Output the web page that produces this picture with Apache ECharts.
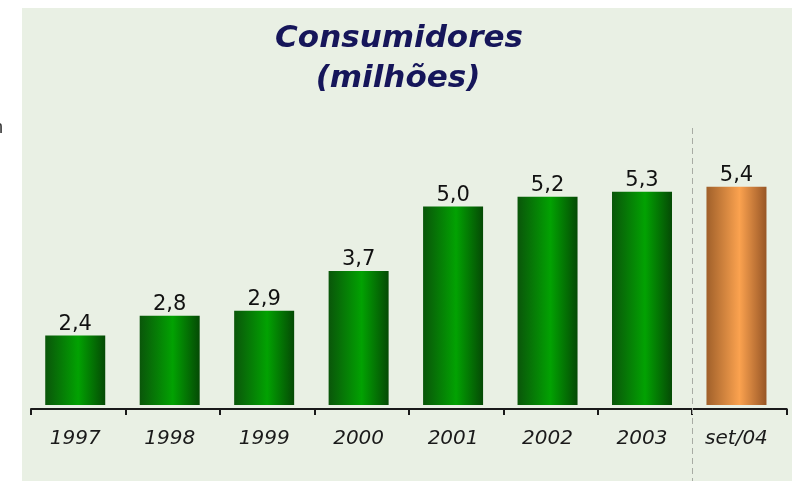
<!DOCTYPE html>
<html>
<head>
<meta charset="utf-8">
<script src="https://cdn.jsdelivr.net/npm/echarts@6/dist/echarts.min.js"></script>
<style>
  html, body { margin: 0; padding: 0; background: #ffffff; }
  #chart { width: 792px; height: 481px; }
</style>
</head>
<body>
<div id="chart"></div>
<script>
// Consumer base, millions of customers per year (last column: September 2004)
const periods = ['1997', '1998', '1999', '2000', '2001', '2002', '2003', 'set/04'];
const consumers = [2.4, 2.8, 2.9, 3.7, 5.0, 5.2, 5.3, 5.4];
const titleLines = ['Consumidores', '(milhões)'];
const partialPeriod = 'set/04';

const chart = echarts.init(document.getElementById('chart'), null, { renderer: 'canvas' });

const greenFill = new echarts.graphic.LinearGradient(0, 0, 1, 0, [
  { offset: 0, color: '#0a560a' },
  { offset: 0.55, color: '#02a202' },
  { offset: 1, color: '#054a05' }
]);
const orangeFill = new echarts.graphic.LinearGradient(0, 0, 1, 0, [
  { offset: 0, color: '#a0602a' },
  { offset: 0.55, color: '#fba24f' },
  { offset: 1, color: '#985626' }
]);

const barData = consumers.map((v, i) => ({
  value: v,
  itemStyle: { color: periods[i] === partialPeriod ? orangeFill : greenFill }
}));

const option = {
  backgroundColor: '#ffffff',
  animation: false,
  graphic: [
    { type: 'rect', z: -10, shape: { x: 22, y: 8, width: 800, height: 500 }, style: { fill: '#e9f0e4' } },
    { type: 'text', left: -7, top: 119, style: { text: 'n', font: '18px "Liberation Sans"', fill: '#333' } },
    { type: 'text', x: 399, y: 39, style: {
        text: titleLines[0], font: 'italic bold 31px "DejaVu Sans"', fill: '#16165a',
        textAlign: 'center', textVerticalAlign: 'middle' } },
    { type: 'text', x: 398, y: 79, style: {
        text: titleLines[1], font: 'italic bold 31px "DejaVu Sans"', fill: '#16165a',
        textAlign: 'center', textVerticalAlign: 'middle' } }
  ],
  grid: [
    { left: 28, right: 8.3, top: 157, bottom: 76 },
    { left: 31, right: 5.3, top: 157, bottom: 72 }
  ],
  xAxis: [
    {
      type: 'category', gridIndex: 0, data: periods,
      axisLine: { show: false }, axisTick: { show: false },
      axisLabel: {
        margin: 24, fontFamily: 'DejaVu Sans', fontStyle: 'italic',
        fontSize: 20, color: '#1a1a1a'
      }
    },
    {
      type: 'category', gridIndex: 1, data: periods,
      axisLine: { show: true, lineStyle: { color: '#1a1a1a', width: 2 } },
      axisTick: { show: true, length: 6, lineStyle: { color: '#1a1a1a', width: 2 } },
      axisLabel: { show: false }
    }
  ],
  yAxis: [
    { type: 'value', gridIndex: 0, min: 1, max: 6, show: false },
    { type: 'value', gridIndex: 1, min: 0, max: 1, show: false }
  ],
  series: [
    {
      type: 'bar', xAxisIndex: 0, yAxisIndex: 0,
      data: barData, barWidth: 60,
      label: {
        show: true, position: 'top', distance: 1,
        fontFamily: 'DejaVu Sans', fontSize: 21, color: '#111',
        formatter: p => p.value.toFixed(1).replace('.', ',')
      }
    }
  ]
};

chart.setOption(option);

// dashed separator between the full years and the partial period
const xa = chart.convertToPixel({ xAxisIndex: 1 }, periods[periods.length - 2]);
const xb = chart.convertToPixel({ xAxisIndex: 1 }, periods[periods.length - 1]);
const sepX = Math.round((xa + xb) / 2) + 0.5;
chart.setOption({
  graphic: option.graphic.concat([{
    type: 'line', z: 5,
    shape: { x1: sepX, y1: 128, x2: sepX, y2: 481 },
    style: { stroke: '#a8aca4', lineWidth: 1, lineDash: [6, 4] }
  }])
});
</script>
</body>
</html>
